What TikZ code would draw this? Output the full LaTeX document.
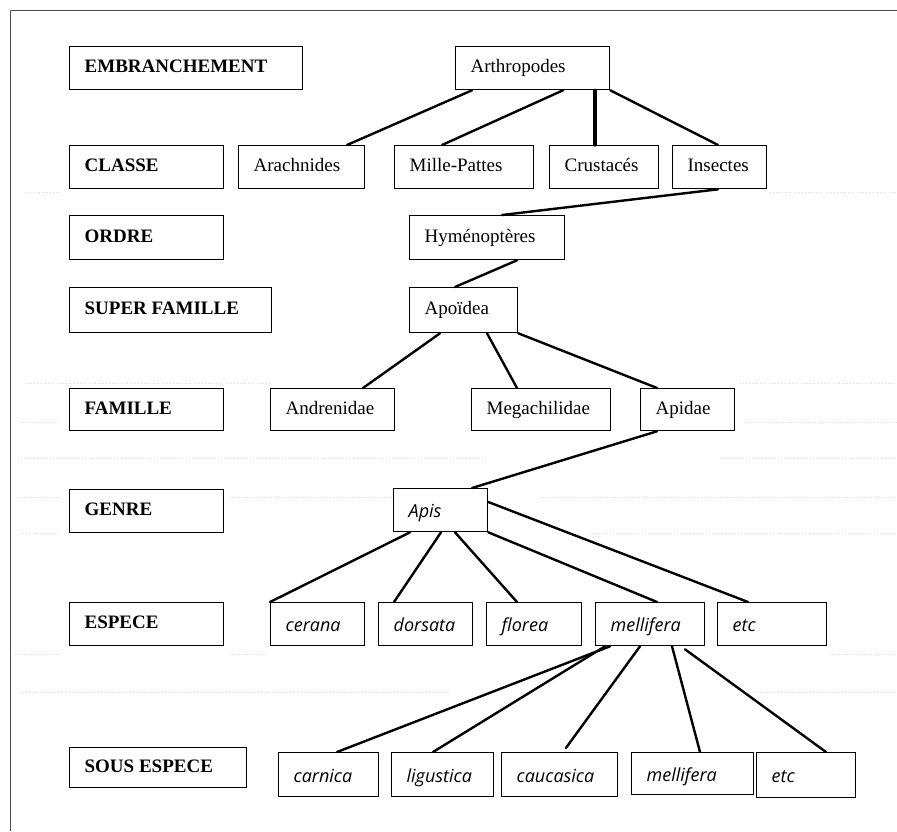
\documentclass[tikz,border=0pt]{standalone}
\usepackage{fontspec}
\setmainfont{Liberation Serif}
\newfontfamily\spf{Open Sans}
\begin{document}
\begin{tikzpicture}[x=1pt,y=-1pt,
  box/.style={draw=black,line width=1.3pt,inner xsep=15pt,inner ysep=0pt,anchor=north west,
    text height=13pt,text depth=4pt,font=\fontsize{19}{21}\selectfont},
  conn/.style={line width=2.4pt,line cap=round},
  grid/.style={gray!28,dotted,line width=0.9pt},
  frame/.style={draw=black!70,line width=1pt}]
\useasboundingbox (0,0) rectangle (897,831);
% faint dotted background lines
\draw[grid] (27,192) -- (60,192) (770,192) -- (897,192);
\draw[grid] (25,383) -- (270,383) (740,383) -- (897,383);
\draw[grid] (20,422) -- (60,422) (745,422) -- (897,422);
\draw[grid] (18,458) -- (485,458) (720,458) -- (897,458);
\draw[grid] (18,497) -- (60,497) (230,497) -- (390,497) (540,497) -- (897,497);
\draw[grid] (20,533) -- (60,533) (590,533) -- (897,533);
\draw[grid] (15,654) -- (60,654) (230,654) -- (265,654) (830,654) -- (897,654);
\draw[grid] (20,692) -- (450,692) (755,692) -- (897,692);
% frame
\coordinate (fa) at (10,831);
\coordinate (fb) at (10,10);
\coordinate (fc) at (897,10);
\draw[frame] (fa) -- (fb) -- (fc);
\newcommand\taxbox[6]{%
  \pgfmathsetmacro\bw{#3-#1-30}\pgfmathsetmacro\bh{#4-#2}%
  \node[box,minimum height=\bh pt] (#5) at (#1,#2) {\makebox[\bw pt][l]{#6}};}
\newcommand\sptext[1]{\raisebox{-3pt}{\spf\fontsize{18}{20}\selectfont\itshape #1}}
% level labels
\taxbox{69}{46}{302}{89}{emb}{\bfseries EMBRANCHEMENT}
\taxbox{69}{145}{223}{188}{cla}{\bfseries CLASSE}
\taxbox{69}{215}{223}{259}{ord}{\bfseries ORDRE}
\taxbox{69}{287}{271}{332}{sup}{\bfseries SUPER FAMILLE}
\taxbox{69}{388}{223}{430}{fam}{\bfseries FAMILLE}
\taxbox{69}{489}{223}{532}{gen}{\bfseries GENRE}
\taxbox{69}{602}{223}{645}{esp}{\bfseries ESPECE}
\taxbox{69}{747}{246}{787}{sous}{\bfseries SOUS ESPECE}
% taxa
\taxbox{455}{46}{609}{89}{arth}{Arthropodes}
\taxbox{238}{145}{364}{188}{arach}{Arachnides}
\taxbox{394}{145}{533}{188}{mille}{Mille-Pattes}
\taxbox{549}{145}{658}{188}{crust}{Crustacés}
\taxbox{672}{145}{766}{188}{ins}{Insectes}
\taxbox{409}{215}{564}{259}{hym}{Hyménoptères}
\taxbox{409}{287}{517}{332}{apo}{Apoïdea}
\taxbox{270}{388}{394}{430}{andr}{Andrenidae}
\taxbox{471}{388}{610}{430}{mega}{Megachilidae}
\taxbox{640}{388}{734}{430}{apid}{Apidae}
\taxbox{393}{488}{487}{531}{apis}{\sptext{Apis}}
\taxbox{270}{602}{364}{645}{cer}{\sptext{cerana}}
\taxbox{378}{602}{472}{645}{dors}{\sptext{dorsata}}
\taxbox{486}{602}{581}{645}{flor}{\sptext{florea}}
\taxbox{595}{602}{704}{645}{mel}{\sptext{mellifera}}
\taxbox{717}{602}{826}{645}{etc}{\sptext{etc}}
\taxbox{278}{752}{378}{796}{carn}{\sptext{carnica}}
\taxbox{391}{752}{493}{796}{lig}{\sptext{ligustica}}
\taxbox{501}{752}{617}{796}{cauc}{\sptext{caucasica}}
\taxbox{631}{752}{753}{794}{melb}{\sptext{mellifera}}
\taxbox{756}{752}{855}{797}{etcb}{\sptext{etc}}
% connectors
\draw[conn] ([xshift=17pt]arth.south west) -- ([xshift=109pt]arach.north west);
\draw[conn] ([xshift=108pt]arth.south west) -- ([xshift=48pt]mille.north west);
\draw[conn,line width=3.2pt] ([xshift=140pt]arth.south west) -- ([xshift=46pt]crust.north west);
\draw[conn] (arth.south east) -- ([xshift=46pt]ins.north west);
\draw[conn] ([xshift=46pt]ins.south west) -- ([xshift=93pt]hym.north west);
\draw[conn] ([xshift=108pt]hym.south west) -- ([xshift=46pt]apo.north west);
\draw[conn] ([xshift=31pt]apo.south west) -- ([xshift=93pt]andr.north west);
\draw[conn] ([xshift=78pt]apo.south west) -- ([xshift=46pt]mega.north west);
\draw[conn] (apo.south east) -- ([xshift=17pt]apid.north west);
\draw[conn] ([xshift=17pt]apid.south west) -- ([xshift=79pt]apis.north west);
\draw[conn] ([xshift=17pt]apis.south west) -- (cer.north west);
\draw[conn] ([xshift=48pt]apis.south west) -- ([xshift=16pt]dors.north west);
\draw[conn] ([xshift=62pt]apis.south west) -- ([xshift=31pt]flor.north west);
\draw[conn] (apis.south east) -- ([xshift=62pt]mel.north west);
\draw[conn] ([yshift=-14pt]apis.north east) -- ([xshift=31pt]etc.north west);
\draw[conn] ([xshift=15pt]mel.south west) -- ([xshift=59pt]carn.north west);
\draw[conn] ([xshift=10pt]mel.south west) -- ([xshift=42pt]lig.north west);
\draw[conn,shorten >=5pt] ([xshift=45pt]mel.south west) -- ([xshift=62pt]cauc.north west);
\draw[conn] ([xshift=77pt]mel.south west) -- ([xshift=69pt]melb.north west);
\draw[conn] ([xshift=90pt,yshift=-3pt]mel.south west) -- ([xshift=70pt]etcb.north west);
\end{tikzpicture}
\end{document}
